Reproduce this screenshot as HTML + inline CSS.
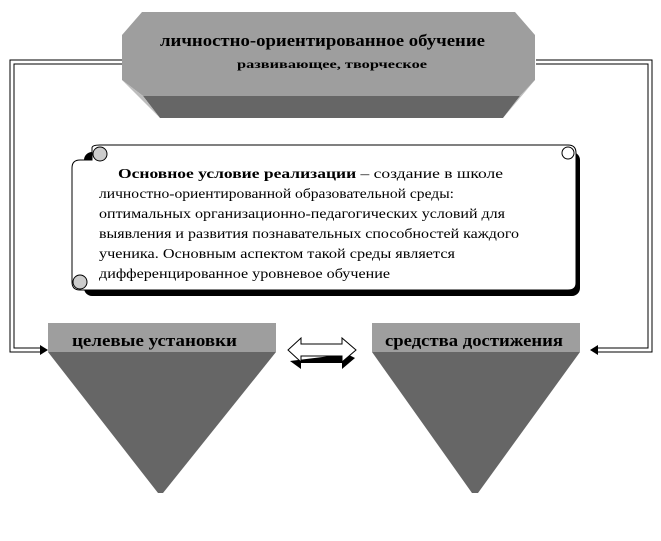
<!DOCTYPE html>
<html><head><meta charset="utf-8"><style>
body{margin:0;background:#fff;}
svg{display:block;}
text{font-family:"Liberation Serif","DejaVu Serif",serif;}
</style></head><body>
<svg width="661" height="541" viewBox="0 0 661 541" xmlns="http://www.w3.org/2000/svg">
<g fill="none" stroke="#000" stroke-width="1">
<path d="M122 60 H10 V352 H40"/>
<path d="M122 64 H14 V348 H40"/>
<path d="M536 60 H652 V352 H598"/>
<path d="M536 64 H648 V348 H598"/>
</g>
<polygon points="48,350 40,345 40,355" fill="#000"/>
<polygon points="590,350 598,345 598,355" fill="#000"/>
<polygon points="143,96 520,96 535,80 535,35 515,12 142,12 122,35 122,80" fill="#9e9e9e"/>
<polygon points="143,96 520,96 503,118 160,118" fill="#666"/>
<polygon points="122,80 143,96 160,118" fill="#bdbdbd"/>
<polygon points="535,80 520,96 503,118" fill="#bdbdbd"/>
<text x="160" y="46" font-size="17" font-weight="bold" textLength="325" lengthAdjust="spacingAndGlyphs">личностно-ориентированное обучение</text>
<text x="237" y="68" font-size="12" font-weight="bold" textLength="190" lengthAdjust="spacingAndGlyphs">развивающее, творческое</text>
<rect x="84" y="152" width="496" height="144" rx="8" fill="#000"/>
<path d="M92 148 Q92 145 100 145 H568 Q576 145 576 153 V283 Q576 290 568 290 H80 Q72 290 72 282 V168 Q72 160 80 160 H92 Z" fill="#fff" stroke="#000"/>
<circle cx="100" cy="154" r="7" fill="#ccc" stroke="#000"/>
<circle cx="80" cy="282" r="7" fill="#ccc" stroke="#000"/>
<circle cx="568" cy="153" r="6" fill="#fff" stroke="#000"/>
<g font-size="14">
<text x="118" y="178" textLength="385" lengthAdjust="spacingAndGlyphs"><tspan font-weight="bold">Основное условие реализации</tspan> – создание в школе</text>
<text x="99" y="198" textLength="355" lengthAdjust="spacingAndGlyphs">личностно-ориентированной образовательной среды:</text>
<text x="99" y="218" textLength="406" lengthAdjust="spacingAndGlyphs">оптимальных организационно-педагогических условий для</text>
<text x="99" y="238" textLength="420" lengthAdjust="spacingAndGlyphs">выявления и развития познавательных способностей каждого</text>
<text x="99" y="258" textLength="356" lengthAdjust="spacingAndGlyphs">ученика. Основным аспектом такой среды является</text>
<text x="99" y="278" textLength="291" lengthAdjust="spacingAndGlyphs">дифференцированное уровневое обучение</text>
</g>
<rect x="48" y="323" width="228" height="29" fill="#9e9e9e"/>
<polygon points="48,352 276,352 163,493 158,493" fill="#666"/>
<text x="72" y="346" font-size="17" font-weight="bold" textLength="165" lengthAdjust="spacingAndGlyphs">целевые установки</text>
<rect x="372" y="323" width="208" height="29" fill="#9e9e9e"/>
<polygon points="372,352 580,352 478,493 472,493" fill="#666"/>
<text x="385" y="346" font-size="17" font-weight="bold" textLength="178" lengthAdjust="spacingAndGlyphs">средства достижения</text>
<polygon points="290,361 301,369 301,363 342,363 342,369 355,358 347,354" fill="#000"/>
<polygon points="288,350 301,338 301,344 342,344 342,338 356,350 342,362 342,356 301,356 301,362" fill="#fff" stroke="#000"/>
</svg>
</body></html>
